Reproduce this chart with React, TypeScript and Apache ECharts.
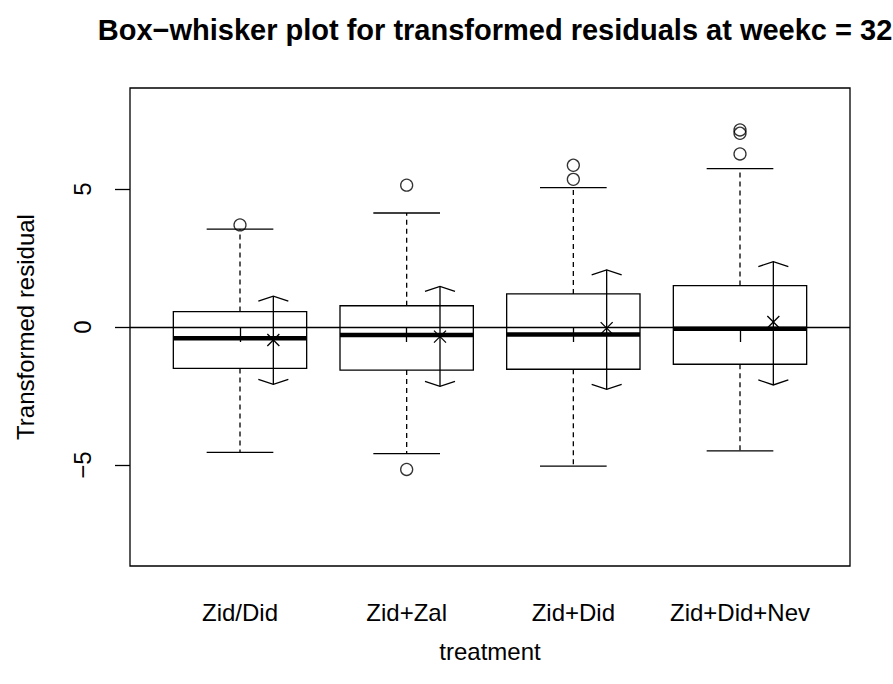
import React, { useEffect, useRef } from "react";
import * as echarts from "echarts";

const categories = ["Zid/Did", "Zid+Zal", "Zid+Did", "Zid+Did+Nev"];
const lowerWhisker = [-4.54, -4.59, -5.04, -4.49];
const lowerQuartile = [-1.5, -1.56, -1.53, -1.35];
const medians = [-0.41, -0.29, -0.27, -0.06];
const upperQuartile = [0.56, 0.77, 1.2, 1.5];
const upperWhisker = [3.55, 4.13, 5.05, 5.74];

const outlierGroup = [1, 2, 2, 3, 3, 4, 4, 4];
const outlierValue = [3.7, 5.14, -5.16, 5.35, 5.86, 6.27, 7.02, 7.14];

const means = [-0.47, -0.35, -0.04, 0.18];
const intervalLow = [-2.08, -2.15, -2.26, -2.1];
const intervalHigh = [1.12, 1.47, 2.07, 2.37];

const yTicks = [-5, 0, 5];
const xTicks = [1, 2, 3, 4];

const FONT = "Liberation Sans, Arial, Helvetica, sans-serif";
const LW = 1.3;
const BOX_W = 0.8;
const CAP_W = 0.4;
const MEAN_OFFSET = 0.2;

export default function App() {
  const ref = useRef<HTMLDivElement>(null);
  useEffect(() => {
    if (!ref.current) return;
    const chart = echarts.init(ref.current, null, { renderer: "svg" });

    const boxData = categories.map((_, i) => [
      i + 1,
      lowerWhisker[i],
      lowerQuartile[i],
      medians[i],
      upperQuartile[i],
      upperWhisker[i],
    ]);
    const meanData = categories.map((_, i) => [
      i + 1 + MEAN_OFFSET,
      intervalLow[i],
      means[i],
      intervalHigh[i],
    ]);
    const outlierData = outlierGroup.map((g, i) => [g, outlierValue[i]]);

    const stroke = { stroke: "#000", lineWidth: LW, fill: "none" };

    const option: any = {
      animation: false,
      title: {
        text: "Box\u2212whisker plot for transformed residuals at weekc = 32",
        left: 490,
        top: 10,
        textAlign: "center",
        textStyle: { fontFamily: FONT, fontWeight: "bold", fontSize: 29, color: "#000" },
      },
      grid: {
        left: 130,
        right: 43,
        top: 88,
        bottom: 118,
        show: true,
        borderColor: "#000",
        borderWidth: LW,
        backgroundColor: "transparent",
      },
      xAxis: {
        type: "value",
        min: 0.34,
        max: 4.66,
        name: "treatment",
        nameLocation: "middle",
        nameGap: 73,
        nameTextStyle: { fontFamily: FONT, fontSize: 24, color: "#000" },
        axisLine: { show: false },
        splitLine: { show: false },
        axisTick: {
          show: true,
          length: 15,
          customValues: xTicks,
          lineStyle: { color: "#000", width: LW },
        },
        axisLabel: {
          customValues: xTicks,
          margin: 34,
          fontFamily: FONT,
          fontSize: 24,
          color: "#000",
          formatter: (v: number) => categories[Math.round(v) - 1] ?? "",
        },
      },
      yAxis: {
        type: "value",
        min: -8.66,
        max: 8.66,
        name: "Transformed residual",
        nameLocation: "middle",
        nameGap: 93,
        nameRotate: 90,
        nameTextStyle: { fontFamily: FONT, fontSize: 24, color: "#000" },
        axisLine: { show: false },
        splitLine: { show: false },
        axisTick: {
          show: true,
          length: 15,
          customValues: yTicks,
          lineStyle: { color: "#000", width: LW },
        },
        axisLabel: {
          customValues: yTicks,
          rotate: 90,
          margin: 36,
          fontFamily: FONT,
          fontSize: 24,
          color: "#000",
          formatter: (v: number) => (v < 0 ? "\u2212" + Math.abs(v) : String(v)),
        },
      },
      series: [
        {
          type: "custom",
          name: "boxes",
          data: boxData,
          encode: { x: 0, y: [1, 2, 3, 4, 5] },
          markLine: {
            silent: true,
            symbol: "none",
            label: { show: false },
            lineStyle: { color: "#000", width: LW, type: "solid" },
            data: [{ yAxis: 0 }],
          },
          renderItem: (params: any, api: any) => {
            const x = api.value(0);
            const pLo = api.coord([x, api.value(1)]);
            const pQ1 = api.coord([x, api.value(2)]);
            const pMed = api.coord([x, api.value(3)]);
            const pQ3 = api.coord([x, api.value(4)]);
            const pHi = api.coord([x, api.value(5)]);
            const hb = api.size([BOX_W, 0])[0] / 2;
            const hc = api.size([CAP_W, 0])[0] / 2;
            const cx = pMed[0];
            return {
              type: "group",
              children: [
                {
                  type: "line",
                  shape: { x1: cx, y1: pQ3[1], x2: cx, y2: pHi[1] },
                  style: { ...stroke, lineDash: [5, 4] },
                },
                {
                  type: "line",
                  shape: { x1: cx, y1: pQ1[1], x2: cx, y2: pLo[1] },
                  style: { ...stroke, lineDash: [5, 4] },
                },
                {
                  type: "line",
                  shape: { x1: cx - hc, y1: pHi[1], x2: cx + hc, y2: pHi[1] },
                  style: stroke,
                },
                {
                  type: "line",
                  shape: { x1: cx - hc, y1: pLo[1], x2: cx + hc, y2: pLo[1] },
                  style: stroke,
                },
                {
                  type: "rect",
                  shape: { x: cx - hb, y: pQ3[1], width: hb * 2, height: pQ1[1] - pQ3[1] },
                  style: stroke,
                },
                {
                  type: "line",
                  shape: { x1: cx - hb, y1: pMed[1], x2: cx + hb, y2: pMed[1] },
                  style: { stroke: "#000", lineWidth: 4.5 },
                },
              ],
            };
          },
        },
        {
          type: "custom",
          name: "means",
          data: meanData,
          encode: { x: 0, y: [1, 2, 3] },
          renderItem: (params: any, api: any) => {
            const x = api.value(0);
            const pLo = api.coord([x, api.value(1)]);
            const pM = api.coord([x, api.value(2)]);
            const pHi = api.coord([x, api.value(3)]);
            const cx = pM[0];
            const aw = 15;
            const ah = 5;
            const s = 6;
            return {
              type: "group",
              children: [
                {
                  type: "line",
                  shape: { x1: cx, y1: pHi[1], x2: cx, y2: pLo[1] },
                  style: stroke,
                },
                {
                  type: "polyline",
                  shape: { points: [[cx - aw, pHi[1] + ah], [cx, pHi[1]], [cx + aw, pHi[1] + ah]] },
                  style: stroke,
                },
                {
                  type: "polyline",
                  shape: { points: [[cx - aw, pLo[1] - ah], [cx, pLo[1]], [cx + aw, pLo[1] - ah]] },
                  style: stroke,
                },
                {
                  type: "line",
                  shape: { x1: cx - s, y1: pM[1] - s, x2: cx + s, y2: pM[1] + s },
                  style: stroke,
                },
                {
                  type: "line",
                  shape: { x1: cx - s, y1: pM[1] + s, x2: cx + s, y2: pM[1] - s },
                  style: stroke,
                },
              ],
            };
          },
        },
        {
          type: "scatter",
          name: "outliers",
          data: outlierData,
          symbol: "circle",
          symbolSize: 12,
          itemStyle: { color: "transparent", borderColor: "#000", borderWidth: LW },
        },
      ],
    };

    chart.setOption(option);
    return () => chart.dispose();
  }, []);

  return (
    <div
      ref={ref}
      style={{ position: "fixed", left: 0, top: 0, width: 893, height: 684, background: "#fff" }}
    />
  );
}
